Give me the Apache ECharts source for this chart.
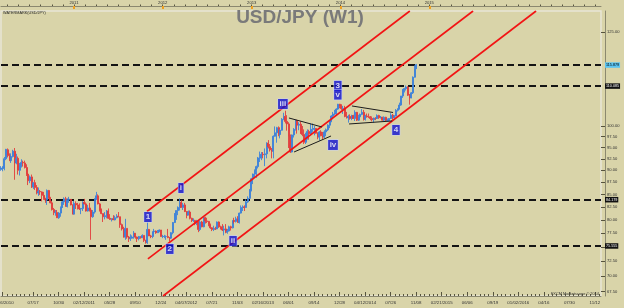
<!DOCTYPE html>
<html><head><meta charset="utf-8">
<script src="https://cdn.jsdelivr.net/npm/echarts@6/dist/echarts.min.js"></script>
<style>html,body{margin:0;padding:0;background:#d9d4a9;}#c{width:624px;height:308px;}</style>
</head><body><div id="c"></div>
<script>
// ---------------- data ----------------
const firstWeek = '2010-03-07';
const axisStart = '2010-03-07';
const axisEnd = '2016-12-07';
const yMinPrice = 66.76;
const yMaxPrice = 131.43;
// weekly candles: [open, close, low, high]
const ohlc = [
[90.2,90.5,89.9,90.9],[90.5,90.5,89.8,90.9],[90.4,92.5,90.0,92.9],[92.5,94.6,92.2,94.7],[94.5,93.2,92.8,94.8],
[93.2,92.1,92.0,93.7],[92.1,93.0,91.6,93.7],[93.0,94.2,92.8,94.5],[94.2,91.6,88.0,94.9],[91.6,92.6,91.3,93.6],
[92.6,90.0,89.1,93.0],[90.0,91.3,88.9,91.6],[91.3,91.7,90.6,92.4],[91.7,91.6,90.8,92.1],[91.6,90.6,90.4,92.1],
[90.6,89.2,88.8,91.3],[89.2,87.8,86.9,89.3],[87.8,88.6,87.3,88.9],[88.6,86.5,86.3,89.1],[86.5,87.4,86.1,87.5],
[87.4,86.4,85.9,88.0],[86.4,85.3,85.0,86.9],[85.3,85.6,84.7,86.4],[85.6,85.5,84.9,85.9],[85.5,84.8,83.6,85.6],
[84.8,84.2,83.9,85.5],[84.2,83.9,83.3,84.3],[83.9,85.8,82.9,86.0],[85.8,84.3,84.1,85.9],[84.3,83.3,83.2,84.5],
[83.3,82.0,81.8,83.7],[82.0,81.4,80.9,82.3],[81.4,81.4,80.8,81.9],[81.4,80.4,80.4,81.9],[80.4,81.3,80.2,81.5],
[81.3,82.4,80.6,82.6],[82.4,83.5,82.3,83.7],[83.5,84.1,82.9,84.4],[84.1,82.6,82.6,84.5],[82.6,83.9,82.4,84.2],
[83.9,84.0,83.3,84.5],[84.0,82.9,82.8,84.0],[82.9,81.1,81.1,83.0],
[81.1,83.2,81.1,83.7],[83.2,82.9,82.1,83.6],[82.9,82.6,82.0,83.3],[82.6,82.1,81.9,83.2],[82.1,82.2,81.1,82.3],
[82.2,83.4,81.7,83.6],[83.4,83.1,83.0,84.1],[83.1,81.7,81.6,83.4],[81.7,82.3,81.6,82.9],[82.3,81.9,81.6,83.3],
[81.9,80.6,76.3,82.0],[80.6,81.5,80.4,81.9],[81.5,84.1,81.2,84.2],[84.1,84.7,83.9,85.5],[84.7,83.1,83.0,85.0],
[83.1,81.9,81.6,83.3],[81.9,81.2,81.1,82.2],[81.2,80.6,79.6,81.2],[80.6,80.8,80.1,81.5],[80.8,81.7,80.3,81.9],
[81.7,80.3,80.2,82.2],[80.3,80.1,80.0,81.1],[80.1,80.2,79.7,80.3],[80.2,80.0,80.0,80.9],[80.0,80.4,79.9,80.8],
[80.4,80.7,80.3,81.1],[80.7,80.6,80.5,81.5],[80.6,79.1,78.5,80.6],[79.1,78.3,78.0,79.3],[78.3,76.8,76.7,78.7],
[76.8,78.4,76.3,80.2],[78.4,76.8,76.5,78.4],[76.8,76.5,75.9,77.0],[76.5,76.6,76.1,77.3],[76.6,76.8,76.5,77.1],
[76.8,77.5,76.5,77.9],[77.5,76.8,76.5,77.5],[76.8,76.5,75.9,76.9],[76.5,76.9,76.2,77.0],[76.9,76.7,76.5,76.9],
[76.7,77.1,76.6,77.3],[77.1,76.2,75.9,77.1],[76.2,75.8,75.6,76.3],[75.8,78.2,75.56,79.5],[78.2,77.0,77.0,78.3],
[77.0,76.9,76.6,77.2],[76.9,77.8,76.6,77.8],[77.8,77.9,77.5,78.3],[77.9,77.6,77.4,78.0],[77.6,77.8,77.6,78.1],
[77.8,78.1,77.7,78.2],[78.1,76.9,76.9,78.1],
[76.9,76.9,76.6,77.2],[76.9,76.9,76.6,77.2],[76.9,76.9,76.3,77.1],[76.9,76.7,76.6,78.3],[76.7,76.6,76.0,76.8],
[76.6,77.6,76.5,77.7],[77.6,79.5,77.3,79.6],[79.5,81.2,79.4,81.3],[81.2,81.8,80.0,81.8],[81.8,82.4,80.9,82.6],
[82.4,83.4,81.8,84.2],[83.4,82.4,82.4,83.8],[82.4,82.9,81.9,83.3],[82.9,81.6,81.5,83.3],[81.6,80.9,80.3,81.7],
[80.9,81.5,80.9,81.8],[81.5,80.3,80.1,81.8],[80.3,79.9,79.6,80.4],[79.9,79.9,79.6,80.3],[79.9,79.3,79.0,80.0],
[79.3,79.6,79.0,80.0],[79.6,78.2,77.7,79.8],[78.2,79.6,77.9,79.9],[79.6,78.7,78.6,79.8],[78.7,80.4,78.6,80.6],
[80.4,79.8,79.3,80.6],[79.8,79.7,79.4,80.4],[79.7,79.1,78.8,79.8],[79.1,78.5,78.3,79.3],[78.5,78.2,77.9,78.6],
[78.2,78.4,77.9,78.9],[78.4,78.3,78.1,78.7],[78.3,79.6,78.3,79.7],[79.6,78.7,78.5,79.7],[78.7,78.3,78.2,78.9],
[78.3,78.1,77.9,79.2],[78.1,78.3,77.1,78.9],[78.3,77.7,77.5,79.2],[77.7,77.9,77.4,78.3],[77.9,78.7,77.8,78.9],
[78.7,78.5,78.0,78.9],[78.5,79.9,78.4,79.9],[79.9,79.7,79.3,80.4],[79.7,80.2,79.5,80.6],[80.2,79.5,79.5,80.7],
[79.5,81.3,79.3,81.4],[81.3,82.4,81.2,82.8],[82.4,82.5,81.7,82.8],[82.5,82.4,81.7,82.8],[82.4,83.5,82.3,84.0],
[83.5,84.2,83.3,84.6],[84.2,85.9,84.1,86.1],[85.9,88.2,85.6,88.4],
[88.2,89.2,87.1,89.3],[89.2,90.0,88.5,90.2],[90.0,90.8,88.4,91.0],[90.8,92.7,90.4,92.9],[92.7,92.7,91.8,94.1],
[92.7,93.5,92.2,94.0],[93.5,93.4,92.6,94.0],[93.4,93.6,90.9,94.8],[93.6,96.0,92.6,96.2],[96.0,95.2,94.8,96.7],
[95.2,94.5,94.1,95.8],[94.5,94.2,92.6,94.9],[94.2,97.6,92.6,97.8],[97.6,98.4,97.5,99.9],[98.4,99.6,96.1,99.8],
[99.6,98.0,97.6,99.9],[98.0,99.0,97.1,99.2],[99.0,101.6,98.9,101.9],[101.6,102.3,101.4,103.2],[102.3,101.1,100.6,103.7],
[101.1,100.5,98.9,102.6],[100.5,97.5,94.9,100.9],[97.5,94.0,93.8,98.0],[94.0,97.9,93.9,98.0],[97.9,99.2,97.3,99.5],
[99.2,101.2,98.9,101.5],[101.2,100.2,98.2,101.5],[100.2,100.4,99.0,100.9],[100.4,98.3,98.1,101.1],[98.3,98.0,97.6,100.0],
[98.0,96.2,95.8,99.2],[96.2,97.5,95.8,98.4],[97.5,98.7,96.8,99.2],[98.7,98.2,96.8,99.1],[98.2,99.2,97.8,100.6],
[99.2,99.4,98.6,100.6],[99.4,99.4,97.8,100.0],[99.4,98.3,98.2,99.5],[98.3,97.4,96.9,98.5],[97.4,98.6,96.6,98.8],
[98.6,97.7,97.6,99.0],[97.7,97.4,96.9,98.6],[97.4,98.6,97.2,99.0],[98.6,99.1,97.6,99.4],[99.1,100.2,98.8,100.4],
[100.2,101.2,99.5,101.4],[101.2,102.4,100.9,102.6],[102.4,102.9,101.6,103.4],[102.9,103.2,102.6,103.9],[103.2,104.1,102.4,104.3],
[104.1,105.3,103.9,105.4],
[105.3,104.8,104.3,105.4],[104.8,104.2,103.9,105.3],[104.2,104.3,102.9,104.9],[104.3,102.3,102.1,104.9],[102.3,102.0,101.8,103.4],
[102.0,102.3,100.8,102.7],[102.3,101.8,101.5,102.8],[101.8,102.5,101.4,102.7],[102.5,101.8,101.7,102.7],[101.8,103.3,101.2,103.8],
[103.3,101.4,101.2,103.4],[101.4,102.2,101.2,102.7],[102.2,102.8,101.9,103.0],[102.8,103.3,102.6,104.1],[103.3,101.6,101.3,103.9],
[101.6,102.4,101.3,102.7],[102.4,102.2,102.0,103.0],[102.2,102.1,101.9,103.0],[102.1,101.8,101.4,102.4],[101.8,101.5,101.1,102.3],
[101.5,101.9,100.8,102.0],[101.9,101.8,101.4,102.1],[101.8,102.5,101.7,102.8],[102.5,102.0,101.7,102.7],[102.0,102.1,101.8,102.4],
[102.1,101.4,101.3,102.2],[101.4,102.1,101.2,102.3],[102.1,101.3,101.1,102.2],[101.3,101.3,101.0,101.8],[101.3,101.8,101.1,101.9],
[101.8,102.6,101.7,103.1],[102.6,102.0,101.5,102.9],[102.0,102.4,101.9,102.6],[102.4,103.8,102.3,104.1],[103.8,104.1,103.5,104.3],
[104.1,105.1,104.0,105.7],[105.1,107.4,104.9,107.4],[107.4,109.0,106.9,109.2],[109.0,109.3,108.3,109.5],[109.3,109.7,108.8,110.09],
[109.7,107.6,107.4,109.9],[107.6,106.9,105.2,107.9],[106.9,108.2,106.8,108.4],[108.2,112.3,107.9,112.5],[112.3,114.6,112.2,115.5],
[114.6,115.7,114.5,115.88]
];
const levelValues = [115.879, 110.085, 84.179, 75.555];
const levelLabels = ['115.879', '110.085', '84.179', '75.555'];
const priceTicks = [125, 100, 97.5, 95, 92.5, 90, 87.5, 85, 82.5, 80, 77.5, 75, 72.5, 70, 67.5];
const bottomLabelText = ['02/06/2010','07/17','10/30','02/12/2011','05/28','09/10','12/24','04/07/2012','07/21','11/03','02/16/2013','06/01','09/14','12/28','04/12/2014','07/26','11/08','02/21/2015','06/06','09/19','01/02/2016','04/16','07/30','11/12'];
const bottomLabelDate = ['2010-03-14','2010-07-17','2010-10-30','2011-02-12','2011-05-28','2011-09-10','2011-12-24','2012-04-07','2012-07-21','2012-11-03','2013-02-16','2013-06-01','2013-09-14','2013-12-28','2014-04-12','2014-07-26','2014-11-08','2015-02-21','2015-06-06','2015-09-19','2016-01-02','2016-04-16','2016-07-30','2016-11-12'];
const yearLabels = ['2011', '2012', '2013', '2014', '2015'];
// channel lines [start date, start price, end date, end price]
const channelLines = [
  ['2011-10-28', 81.61, '2014-10-13', 131.43],
  ['2011-11-01', 72.90, '2015-06-30', 131.43],
  ['2012-01-02', 66.76, '2016-03-15', 131.43]
];
const triangleLines = [
  ['2013-06-03', 101.92, '2013-10-17', 99.76],
  ['2013-06-24', 94.01, '2013-11-23', 97.65],
  ['2014-02-17', 104.87, '2014-08-05', 103.26],
  ['2014-02-05', 100.48, '2014-08-01', 101.20]
];
const waveText = ['1', '2', 'i', 'ii', 'iii', 'iv', '3', 'v', '4'];
const waveDate = ['2011-11-01', '2012-01-30', '2012-03-16', '2012-10-16', '2013-05-09', '2013-12-01', '2013-12-21', '2013-12-21', '2014-08-17'];
const wavePrice = [80.55, 74.66, 86.30, 76.09, 105.37, 95.59, 110.0, 107.75, 99.05];

// ---------------- build ----------------
const DAY = 864e5;
const T = s => Date.parse(s + 'T00:00:00Z');
const L = Math.log;
const xMin = T(axisStart), xMax = T(axisEnd);
const w0 = T(firstWeek);
const candles = ohlc.map((r, i) => [w0 + i * 7 * DAY, L(r[0]), L(r[1]), L(r[2]), L(r[3])]);

const bottomTs = bottomLabelDate.map(T);
const bottomMap = {};
bottomTs.forEach((t, i) => { bottomMap[t] = bottomLabelText[i]; });
const minorBottom = [];
for (let t = T('2010-07-17') - 105 * DAY; t <= xMax; t += 17.5 * DAY) minorBottom.push(t);
const yearTs = yearLabels.map(y => T(y + '-01-01'));
const yearMap = {};
yearTs.forEach((t, i) => { yearMap[t] = yearLabels[i]; });
const minorTop = [];
const yStep = (T('2011-01-01') - T('2010-01-01')) / 8;
for (let t = T('2010-01-01'); t <= xMax; t += yStep) minorTop.push(t);

const FONT = 'Liberation Sans';
const axisCol = '#8b886f';
const tickCol = '#57543f';
const baseX = { type: 'value', min: xMin, max: xMax, splitLine: { show: false } };

const lineSeries = (arr, color, width) => arr.map(l => ({
  type: 'line', xAxisIndex: 0, yAxisIndex: 0, symbol: 'none', silent: true, z: 4,
  data: [[T(l[0]), L(l[1])], [T(l[2]), L(l[3])]],
  lineStyle: { color: color, width: width }
}));

const option = {
  animation: false,
  backgroundColor: '#d9d4a9',
  grid: { left: 1, right: 23, top: 11, bottom: 12, show: true, borderColor: '#e8e5d6', borderWidth: 1.5, backgroundColor: 'transparent', containLabel: false, outerBoundsMode: 'none' },
  xAxis: [
    Object.assign({}, baseX, {
      position: 'bottom',
      axisLine: { show: true, lineStyle: { color: axisCol, width: 1 } },
      axisTick: { show: true, inside: true, length: 4, customValues: bottomTs, lineStyle: { color: tickCol } },
      axisLabel: { show: true, customValues: bottomTs, formatter: v => bottomMap[v] || '', fontSize: 4.4, color: '#333', margin: 5, fontFamily: FONT }
    }),
    Object.assign({}, baseX, {
      position: 'bottom',
      axisLine: { show: false },
      axisTick: { show: true, inside: true, length: 2, customValues: minorBottom, lineStyle: { color: tickCol } },
      axisLabel: { show: false }
    }),
    Object.assign({}, baseX, {
      position: 'top', offset: 5,
      axisLine: { show: true, lineStyle: { color: axisCol, width: 1 } },
      axisTick: { show: true, inside: false, length: 1.5, customValues: minorTop, lineStyle: { color: tickCol } },
      axisLabel: { show: true, customValues: yearTs, formatter: v => yearMap[v] || '', fontSize: 4.2, color: '#333', margin: 1.2, fontFamily: FONT }
    }),
    Object.assign({}, baseX, {
      position: 'top', offset: 5,
      axisLine: { show: false },
      axisTick: { show: true, inside: true, length: 3, customValues: yearTs, lineStyle: { color: '#f0a020', width: 2 } },
      axisLabel: { show: false }
    })
  ],
  yAxis: [{
    type: 'value', position: 'right', offset: 4,
    min: L(yMinPrice), max: L(yMaxPrice),
    splitLine: { show: false },
    axisLine: { show: true, lineStyle: { color: axisCol } },
    axisTick: { show: true, inside: true, length: 4, customValues: priceTicks.map(L), lineStyle: { color: tickCol } },
    axisLabel: { show: true, customValues: priceTicks.map(L), formatter: v => Math.exp(v).toFixed(2), fontSize: 4.1, color: '#333', margin: 2, fontFamily: FONT }
  }],
  graphic: [
    { type: 'text', x: 300, y: 17.5, z: 1, silent: true, style: { text: 'USD/JPY (W1)', font: 'bold 19px "Liberation Sans", Arial, sans-serif', fill: '#7a7a7a', align: 'center', verticalAlign: 'middle', textAlign: 'center', textVerticalAlign: 'middle' } },
    { type: 'text', x: 3, y: 13, z: 1, silent: true, style: { text: 'WATERMARK(USD/JPY)', font: '3.8px "Liberation Sans", Arial, sans-serif', fill: '#222', align: 'left', verticalAlign: 'middle', textAlign: 'left', textVerticalAlign: 'middle' } },
    { type: 'text', x: 599, y: 293.5, z: 1, silent: true, style: { text: 'FXCM Marketscope \u00a9 2014', font: '3.9px "Liberation Sans", Arial, sans-serif', fill: '#333', align: 'right', verticalAlign: 'middle', textAlign: 'right', textVerticalAlign: 'middle' } }
  ],
  series: [
    {
      type: 'candlestick', xAxisIndex: 0, yAxisIndex: 0, z: 3, silent: true,
      dimensions: ['t', 'open', 'close', 'lowest', 'highest'],
      encode: { x: 't', y: ['open', 'close', 'lowest', 'highest'] },
      data: candles,
      barWidth: 1.5,
      itemStyle: { color: '#1c6ad6', color0: '#e01e1e', borderColor: '#3d82da', borderColor0: '#e23c3c', borderWidth: 0.9 },
      markLine: {
        silent: true, symbol: ['none', 'none'], animation: false, z: 2,
        lineStyle: { type: [7, 4], color: '#141414', width: 2 },
        label: { show: true, position: 'end', distance: 4, fontSize: 3.7, fontFamily: FONT, padding: [1, 1, 0.5, 1], color: '#fff', backgroundColor: '#111' },
        emphasis: { disabled: true },
        data: levelValues.map((v, i) => ({
          yAxis: L(v),
          label: Object.assign({ formatter: levelLabels[i] }, i === 0 ? { backgroundColor: '#5cc4f2', color: '#000' } : {})
        }))
      }
    }
  ].concat(lineSeries(channelLines, '#f21414', 1.6))
   .concat(lineSeries(triangleLines, '#1c1c1c', 1))
   .concat([{
      type: 'scatter', xAxisIndex: 0, yAxisIndex: 0, z: 10, silent: true,
      symbol: 'rect', symbolSize: [1, 1], itemStyle: { color: '#1010d0' },
      data: waveText.map((s, i) => [T(waveDate[i]), L(wavePrice[i]), s]),
      label: { show: true, position: 'inside', formatter: p => p.data[2], color: '#fff', fontSize: 8, fontWeight: 'bold', fontFamily: FONT,
               backgroundColor: '#1010d0', borderColor: '#c8d2ff', borderWidth: 0.6, padding: [1.5, 1.5, 0.5, 1.5] }
   }])
};

const chart = echarts.init(document.getElementById('c'), null, { renderer: 'canvas' });
chart.setOption(option);
</script>
</body></html>
